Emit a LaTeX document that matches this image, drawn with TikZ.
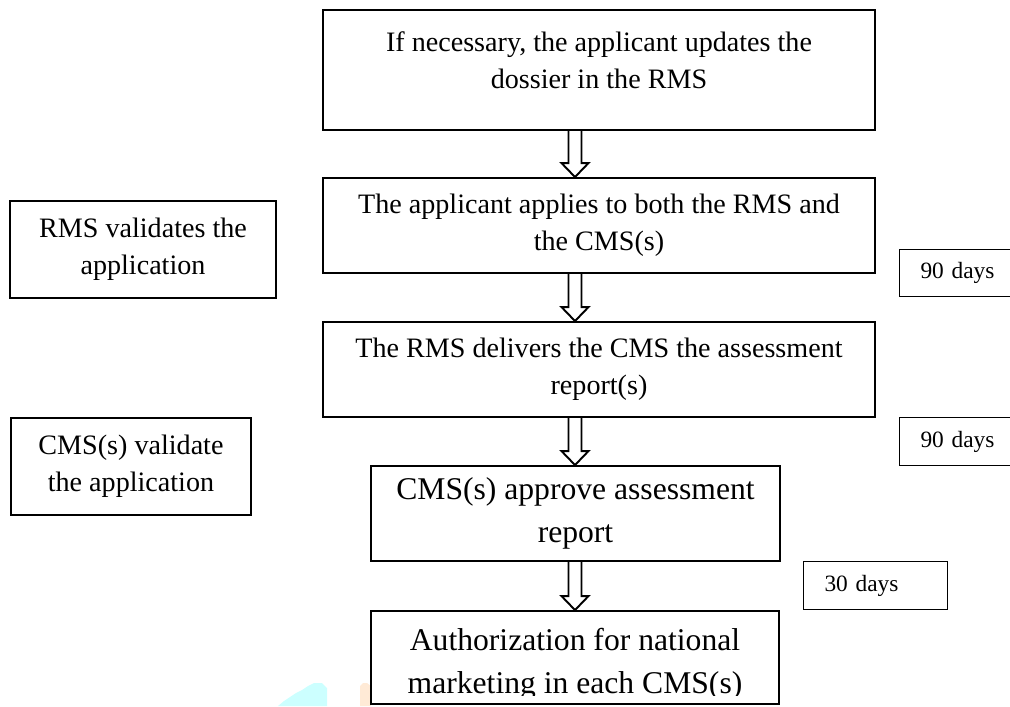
\documentclass[tikz,border=0pt]{standalone}
\usepackage{fontspec}
\setmainfont{Liberation Serif}
\usetikzlibrary{calc}

\definecolor{markcyan}{HTML}{CCFFFF}
\definecolor{markorange}{HTML}{FFEAD6}

\newcommand{\hollowarrow}[2]{%
  \draw[hollow] let \p1=(#1), \p2=(#2) in
    (\x1-0.13cm,\y1) -- (\x1-0.13cm,\y2+0.28cm) -- (\x1-0.27cm,\y2+0.28cm) -- (\x1,\y2)
    -- (\x1+0.27cm,\y2+0.28cm) -- (\x1+0.13cm,\y2+0.28cm) -- (\x1+0.13cm,\y1);}

\begin{document}
\begin{tikzpicture}[x=0.02cm, y=-0.02cm,
    stepbox/.style={draw, line width=1.1pt, align=center, inner sep=0pt, font=\fontsize{16}{21}\selectfont},
    bigbox/.style={stepbox, font=\fontsize{18}{24.5}\selectfont},
    daybox/.style={draw, line width=0.6pt, anchor=west, align=left, text width=2.04cm, inner xsep=0.42cm, inner ysep=0pt, minimum height=0.95cm, font=\fontsize{13.3}{15}\selectfont},
    hollow/.style={line width=1.1pt, line join=miter}]
  \useasboundingbox (0,0) rectangle (1010,706);
  \fill[markcyan] (278,706) -- (284,701) -- (290,697) -- (296,693) -- (302,690) -- (308,686) -- (314,683)
    -- (322,683) -- (327,688) -- (327,706) -- cycle;
  \fill[markorange] (360,706) -- (360,686) -- (363,683) -- (367,683) -- (371,686) -- (371,706) -- cycle;
  \coordinate (spine) at (575,0);
  \node[stepbox, minimum width=11.04cm, minimum height=2.40cm, text depth=0.4cm] (update) at (599,70)
    {If necessary, the applicant updates the\\dossier in the RMS};
  \node[stepbox, minimum width=11.04cm, minimum height=1.90cm] (apply) at (599,225.5)
    {The applicant applies to both the RMS and\\the CMS(s)};
  \node[stepbox, minimum width=11.04cm, minimum height=1.90cm] (deliver) at (599,369.5)
    {The RMS delivers the CMS the assessment\\report(s)};
  \node[bigbox, minimum width=8.18cm, minimum height=1.90cm] (approve) at (575.5,513.5)
    {CMS(s) approve assessment\\report};
  \node[bigbox, minimum width=8.16cm, minimum height=1.86cm] (authorize) at (575,657.5) {};
  \begin{scope}
    \clip (371,611) rectangle (779,695);
    \node[bigbox, draw=none] (authtext) at (575,664)
      {Authorization for national\\marketing in each CMS(s)};
  \end{scope}
  \node[stepbox, minimum width=5.32cm, minimum height=1.94cm] (rmscheck) at (143,249.5)
    {RMS validates the\\application};
  \node[stepbox, minimum width=4.80cm, minimum height=1.94cm] (cmscheck) at (131,466.5)
    {CMS(s) validate\\the application};
  \node[daybox] (days1) at (899,273) {90 days};
  \node[daybox] (days2) at (899,441.5) {90 days};
  \node[daybox] (days3) at (803,585.5) {30 days};
  \foreach \a/\b in {update/apply, apply/deliver, deliver/approve, approve/authorize}
    \hollowarrow{\a.south -| spine}{\b.north -| spine};
\end{tikzpicture}
\end{document}
